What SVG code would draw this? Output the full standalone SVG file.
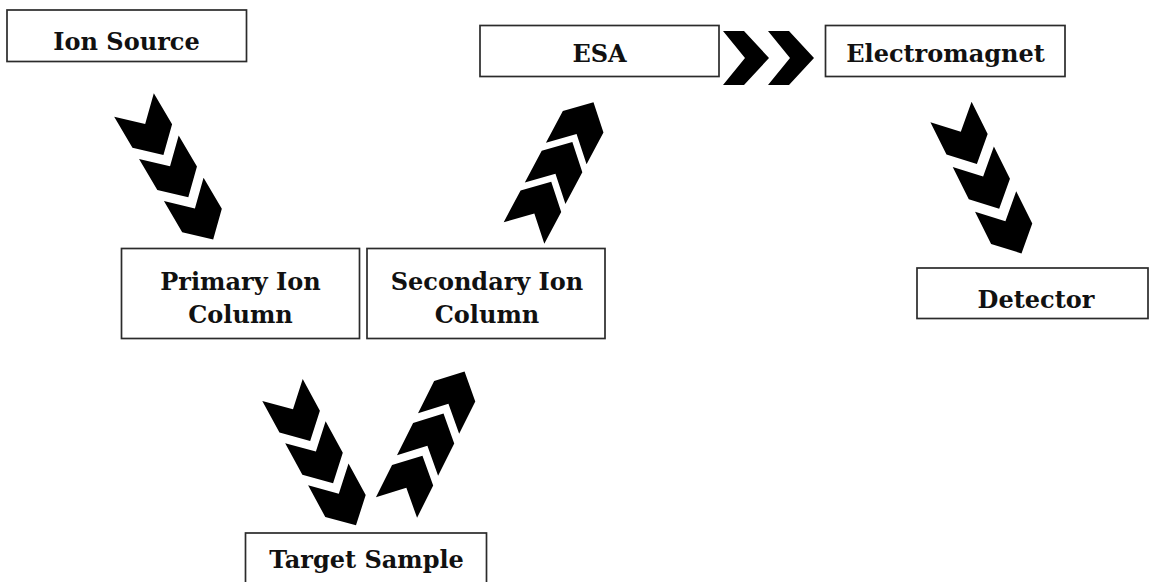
<svg xmlns="http://www.w3.org/2000/svg" xmlns:xlink="http://www.w3.org/1999/xlink" width="1151" height="582" viewBox="0 0 1151 582">
<style>
.box{fill:#fff;stroke:#2b2b2b;stroke-width:1.7}
.lbl{font-family:"DejaVu Serif","Liberation Serif",serif;font-weight:bold;font-size:24px;fill:#111;text-anchor:middle}
.chev{fill:#000}
</style>
<defs>
<path id="cd" class="chev" d="M0,-23 L36,-23 L58,0 L36,23 L0,23 L22,0 Z"/>
<path id="ch" class="chev" d="M0,-27 L21,-27 L46,0 L21,27 L0,27 L22,0 Z"/>
</defs>
<rect width="1151" height="582" fill="#fff"/>
<g id="connectors">
<g transform="translate(134,105) rotate(59.5)"><use xlink:href="#cd"/><use xlink:href="#cd" x="49"/><use xlink:href="#cd" x="98"/></g>
<g transform="translate(524,233) rotate(-62)"><use xlink:href="#cd"/><use xlink:href="#cd" x="45"/><use xlink:href="#cd" x="90"/></g>
<g transform="translate(951,112) rotate(63.5)"><use xlink:href="#cd"/><use xlink:href="#cd" x="50"/><use xlink:href="#cd" x="100"/></g>
<g transform="translate(282.5,390) rotate(61.5)"><use xlink:href="#cd"/><use xlink:href="#cd" x="48"/><use xlink:href="#cd" x="96"/></g>
<g transform="translate(396.5,507.5) rotate(-63.4)"><use xlink:href="#cd"/><use xlink:href="#cd" x="47"/><use xlink:href="#cd" x="94"/></g>
<use xlink:href="#ch" x="723" y="58"/>
<use xlink:href="#ch" x="768" y="58"/>
</g>
<g id="ion-source"><rect class="box" x="7" y="10" width="239.5" height="51.5"/><text class="lbl" x="126.5" y="50">Ion Source</text></g>
<g id="esa"><rect class="box" x="480" y="25.5" width="239" height="51"/><text class="lbl" x="599.5" y="61.5">ESA</text></g>
<g id="electromagnet"><rect class="box" x="825.5" y="25.5" width="239.5" height="51"/><text class="lbl" x="945.5" y="61.5">Electromagnet</text></g>
<g id="primary-ion-column"><rect class="box" x="121.5" y="248.5" width="238" height="90"/><text class="lbl" x="240.5" y="290">Primary Ion</text><text class="lbl" x="240.5" y="323">Column</text></g>
<g id="secondary-ion-column"><rect class="box" x="367" y="248.5" width="238" height="90"/><text class="lbl" x="487" y="290">Secondary Ion</text><text class="lbl" x="487" y="323">Column</text></g>
<g id="detector"><rect class="box" x="917" y="268" width="231" height="50.5"/><text class="lbl" x="1036" y="307.5">Detector</text></g>
<g id="target-sample"><rect class="box" x="245.5" y="533" width="241" height="60"/><text class="lbl" x="366.5" y="568">Target Sample</text></g>
</svg>
